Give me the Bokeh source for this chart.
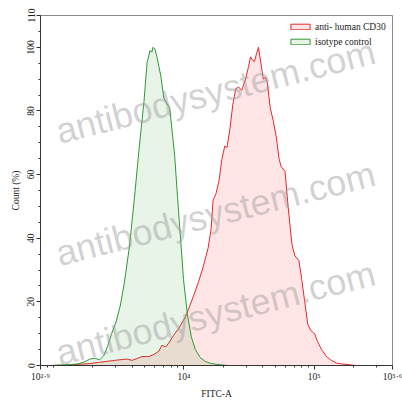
import math
from bokeh.plotting import figure
from bokeh.models import Range1d, FixedTicker, Legend, LegendItem, Label
from bokeh.embed import file_html
from bokeh.resources import INLINE

# ---- data (x in log10 of FITC-A intensity, y in % of max count) ----
green_logx = [2.900, 2.976, 3.051, 3.127, 3.187, 3.240, 3.278, 3.316, 3.354, 3.384,
              3.414, 3.445, 3.482, 3.513, 3.543, 3.581, 3.619, 3.656, 3.694, 3.717,
              3.740, 3.755, 3.762, 3.777, 3.793, 3.823, 3.846, 3.868, 3.891, 3.906,
              3.929, 3.951, 3.974, 3.997, 4.027, 4.057, 4.088, 4.125, 4.163, 4.201,
              4.262, 4.337]
green_pct = [0.0, 0.0, 0.2, 0.3, 0.5, 1.2, 2.0, 2.3, 1.8, 3.0,
             6.0, 10.0, 14.0, 19.0, 26.0, 37.0, 52.0, 68.0, 83.0, 95.0,
             99.0, 98.5, 100.0, 99.5, 97.0, 91.0, 84.0, 82.5, 81.0, 75.0,
             66.0, 53.0, 40.0, 27.0, 16.0, 9.0, 5.0, 2.5, 1.3, 0.7,
             0.3, 0.0]

red_logx = [3.089, 3.165, 3.278, 3.354, 3.407, 3.467, 3.528, 3.566, 3.603, 3.641,
            3.679, 3.732, 3.770, 3.808, 3.830, 3.861, 3.883, 3.921, 3.959, 4.012,
            4.057, 4.110, 4.148, 4.186, 4.209, 4.224, 4.246, 4.269, 4.292, 4.314,
            4.330, 4.352, 4.375, 4.398, 4.420, 4.443, 4.473, 4.496, 4.511, 4.526,
            4.541, 4.557, 4.572, 4.587, 4.609, 4.625, 4.640, 4.662, 4.685, 4.708,
            4.730, 4.746, 4.776, 4.799, 4.829, 4.851, 4.882, 4.904, 4.927, 4.950,
            4.973, 5.003, 5.025, 5.056, 5.094, 5.131, 5.169, 5.207, 5.260, 5.320]
red_pct = [0.0, 0.3, 0.6, 1.0, 1.3, 1.6, 1.9, 2.0, 1.6, 2.2,
           2.8, 2.8, 3.5, 4.5, 6.3, 5.9, 7.0, 9.5, 11.6, 15.3,
           20.0, 26.0, 31.0, 37.0, 43.0, 52.0, 54.0, 58.0, 65.0, 69.0,
           68.5, 74.0, 82.0, 87.0, 87.5, 86.5, 90.0, 94.0, 97.0, 96.0,
           95.5, 98.0, 100.0, 96.0, 90.0, 90.6, 89.0, 81.0, 77.0, 72.0,
           65.0, 62.5, 61.0, 50.0, 38.0, 34.5, 33.0, 27.0, 20.0, 13.0,
           11.0, 10.0, 7.5, 5.0, 2.8, 1.6, 0.8, 0.5, 0.3, 0.0]

x_major = [2.9, 4.0, 5.0, 5.6]
x_labels = ["10\u00b2\u00b7\u2079", "10\u2074", "10\u2075", "10\u2075\u00b7\u2076"]
y_major = [0, 20, 40, 60, 80, 100, 110]
series_names = ["anti- human CD30", "isotype control"]
watermark = "antibodysystem.com"

SERIF = "Liberation Serif"

p = figure(width=402, height=401, output_backend="svg", toolbar_location=None,
           x_range=Range1d(2.9, 5.6), y_range=Range1d(0, 110),
           min_border_left=40, min_border_right=10, min_border_top=15, min_border_bottom=34)
p.background_fill_color = "white"
p.border_fill_color = "white"
p.xgrid.visible = False
p.ygrid.visible = False
p.outline_line_color = "#8a8a8a"
p.outline_line_width = 1

# histograms
red_r = p.patch(red_logx, red_pct, fill_color="#ff0000", fill_alpha=0.10,
                line_color="#e8282c", line_width=1)
green_r = p.patch(green_logx, green_pct, fill_color="#008000", fill_alpha=0.09,
                  line_color="#2e9a34", line_width=1)

# x axis (log scale drawn in decades)
minor = []
for n in (2, 3, 4, 5):
    for k in range(1, 10):
        v = math.log10(k * 10 ** n)
        if 2.9 < v < 5.6:
            minor.append(v)
xa = p.xaxis[0]
xa.ticker = FixedTicker(ticks=x_major, minor_ticks=minor)
xa.major_label_overrides = {t: s for t, s in zip(x_major, x_labels)}
xa.axis_label = "FITC-A"

ya = p.yaxis[0]
ya.ticker = FixedTicker(ticks=y_major, minor_ticks=list(range(0, 111, 5)))
ya.axis_label = "Count (%)"
ya.major_label_orientation = "vertical"

for ax in (xa, ya):
    ax.axis_line_color = "#333333"
    ax.major_tick_line_color = "#333333"
    ax.minor_tick_line_color = "#333333"
    ax.major_tick_out = 4
    ax.major_tick_in = 0
    ax.minor_tick_out = 2
    ax.minor_tick_in = 0
    ax.major_label_text_font = SERIF
    ax.major_label_text_font_size = "9.5px"
    ax.major_label_text_color = "#222222"
    ax.major_label_standoff = 2
    ax.axis_label_text_font = SERIF
    ax.axis_label_text_font_size = "9.5px"
    ax.axis_label_text_font_style = "normal"
    ax.axis_label_text_color = "#222222"
    ax.axis_label_standoff = 4

# legend
legend = Legend(items=[LegendItem(label=series_names[0], renderers=[red_r]),
                       LegendItem(label=series_names[1], renderers=[green_r])],
                location="top_right", margin=5, padding=0, spacing=2,
                label_height=13, glyph_height=7, glyph_width=24, label_width=72,
                label_standoff=3, border_line_alpha=0, background_fill_alpha=0,
                label_text_font=SERIF, label_text_font_size="9.5px",
                label_text_color="#222222")
p.add_layout(legend)

# watermark (kept inside the plot frame)
for (wx, wy) in [(3.023, 73.4), (3.023, 35.0), (3.023, 3.75)]:
    p.add_layout(Label(x=wx, y=wy, text=watermark, angle=0.25,
                       text_font="Liberation Sans", text_font_size="36px",
                       text_color="#9a9a9a", text_alpha=0.45,
                       text_baseline="alphabetic"))

open("out.html", "w").write(file_html(p, INLINE))
